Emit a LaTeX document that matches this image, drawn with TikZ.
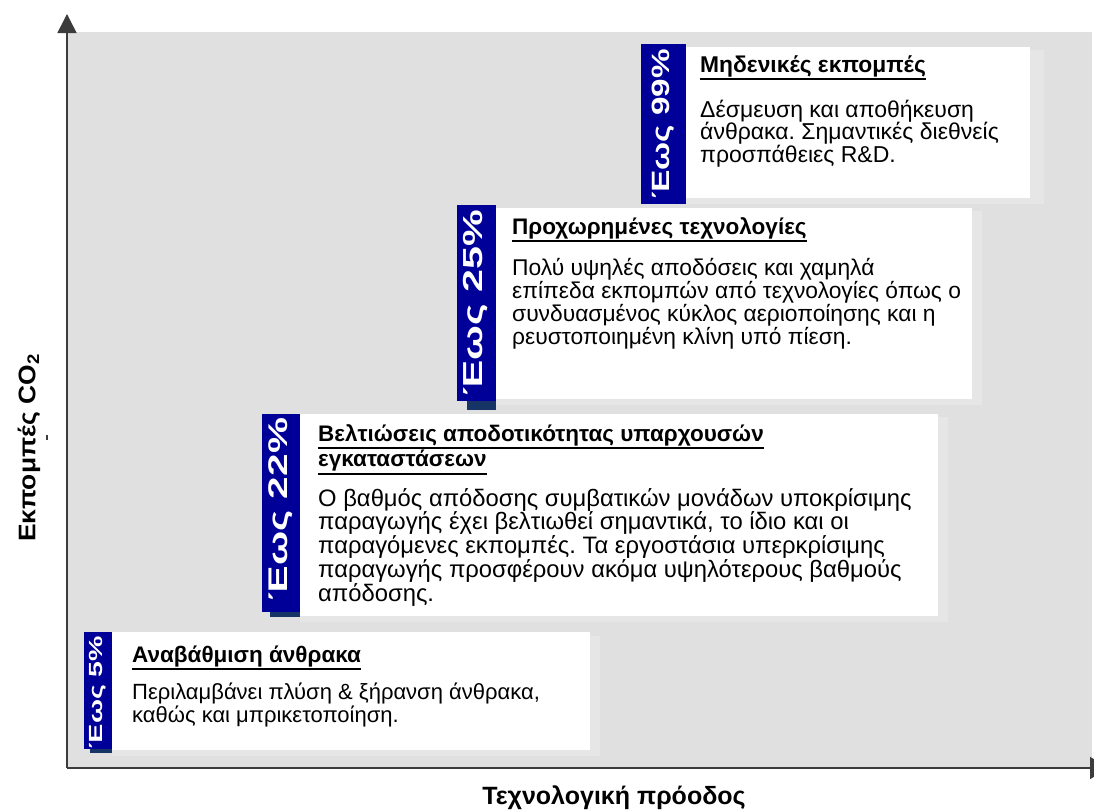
\documentclass[tikz,border=0pt]{standalone}
\usepackage{fontspec}
\setmainfont{Liberation Sans}
\usepackage{graphicx}
\usetikzlibrary{arrows.meta}
\frenchspacing
\definecolor{bggray}{RGB}{224,224,224}
\definecolor{glowgray}{RGB}{230,230,230}
\definecolor{stripblue}{RGB}{0,0,153}
\definecolor{stripdark}{RGB}{22,52,102}
\definecolor{axisgray}{RGB}{60,60,60}
\newcommand{\ulx}[1]{\leavevmode\setbox0\hbox{#1}\rlap{\rule[-8pt]{\wd0}{2pt}}\box0}
\newcommand{\bodytxt}[3]{\parbox[t]{700pt}{\fontsize{#1}{#2}\selectfont\raggedright #3}}
\tikzset{
  panel/.style={fill=white},
  glow/.style={fill=glowgray},
  strip/.style={fill=stripblue},
  stripfoot/.style={fill=stripdark},
  striplabel/.style={rotate=90, text=white, inner sep=0},
  ttl/.style={anchor=base west, inner sep=0, font=\bfseries\fontsize{22.5}{24}\selectfont},
  bdy/.style={anchor=base west, inner sep=0},
  axislabel/.style={inner sep=0, font=\bfseries\fontsize{24}{26}\selectfont},
  axisline/.style={line width=1.5pt, draw=axisgray},
}
\begin{document}
\begin{tikzpicture}[x=1pt,y=-1pt]
\useasboundingbox (0,0) rectangle (1094,811);
% background
\fill[bggray] (68,32) rectangle (1092,768);

% box 1
\fill[glow] (112,636) rectangle (600,756);
\fill[panel] (112,632) rectangle (590,750);
\fill[stripfoot] (90,748) rectangle (112,753);
\fill[strip] (84,632) rectangle (112,749);
\node[striplabel] (p1) at (98,692) {\scalebox{1.5}[1]{\bfseries\fontsize{19}{19}\selectfont Έως 5\%}};
\node[ttl] (t1) at (132,662) {\ulx{Αναβάθμιση άνθρακα}};
\node[bdy] (b1) at (132,699) {\bodytxt{22}{23}{Περιλαμβάνει πλύση \& ξήρανση άνθρακα,\\καθώς και μπρικετοποίηση.}};

% box 2
\fill[glow] (300,417) rectangle (948,622);
\fill[panel] (300,414) rectangle (938,616);
\fill[stripfoot] (270,611) rectangle (300,617);
\fill[strip] (262,414) rectangle (300,612);
\node[striplabel] (p2) at (281,509) {\scalebox{1.5}[1]{\bfseries\fontsize{27}{27}\selectfont Έως 22\%}};
\node[ttl] (t2) at (318,441) {\parbox[t]{700pt}{\fontsize{22.5}{24}\selectfont\bfseries\ulx{Βελτιώσεις αποδοτικότητας υπαρχουσών}\\\ulx{εγκαταστάσεων}}};
\node[bdy] (b2) at (318,506) {\bodytxt{23.8}{22.75}{Ο βαθμός απόδοσης συμβατικών μονάδων υποκρίσιμης\\παραγωγής έχει βελτιωθεί σημαντικά, το ίδιο και οι\\παραγόμενες εκπομπές. Τα εργοστάσια υπερκρίσιμης\\παραγωγής προσφέρουν ακόμα υψηλότερους βαθμούς\\απόδοσης.}};

% box 3
\fill[glow] (496,211) rectangle (982,405);
\fill[panel] (496,208) rectangle (972,399);
\fill[stripfoot] (467,400) rectangle (496,410);
\fill[strip] (457,205) rectangle (496,401);
\node[striplabel] (p3) at (476,303) {\scalebox{1.5}[1]{\bfseries\fontsize{27.5}{27.5}\selectfont Έως 25\%}};
\node[ttl] (t3) at (512,234) {\ulx{Προχωρημένες τεχνολογίες}};
\node[bdy] (b3) at (512,275) {\bodytxt{22.8}{23.3}{Πολύ υψηλές αποδόσεις και χαμηλά\\επίπεδα εκπομπών από τεχνολογίες όπως ο\\συνδυασμένος κύκλος αεριοποίησης και η\\ρευστοποιημένη κλίνη υπό πίεση.}};

% box 4
\fill[glow] (686,50) rectangle (1044,204);
\fill[panel] (686,47) rectangle (1030,198);
\fill[strip] (641,44) rectangle (686,204);
\node[striplabel] (p4) at (663,124) {\scalebox{1.33}[1]{\bfseries\fontsize{25}{25}\selectfont Έως 99\%}};
\node[ttl, font=\bfseries\fontsize{22.8}{24}\selectfont] (t4) at (700,72) {\ulx{Μηδενικές εκπομπές}};
\node[bdy] (b4) at (700,117) {\bodytxt{23}{22.5}{Δέσμευση και αποθήκευση\\άνθρακα. Σημαντικές διεθνείς\\προσπάθειες R\&D.}};

% axes
\coordinate (origin) at (67,768);
\coordinate (ytip) at (67,14);
\coordinate (xtip) at (1109,768);
\draw[axisline, -{Triangle[width=19pt,length=19pt]}] (origin) -- (ytip);
\draw[axisline, -{Triangle[width=22pt,length=19pt]}] (origin) -- (xtip);

\node[axislabel, rotate=90] (ylab) at (29,448) {\scalebox{1.1}[1]{Εκπομπές CO\textsubscript{2}}};
\draw[line width=1.3pt, draw=axisgray] (47,435) -- (47,440);
\node[axislabel, anchor=base, font=\bfseries\fontsize{25}{27}\selectfont] (xlab) at (614,804) {Τεχνολογική πρόοδος};
\end{tikzpicture}
\end{document}
